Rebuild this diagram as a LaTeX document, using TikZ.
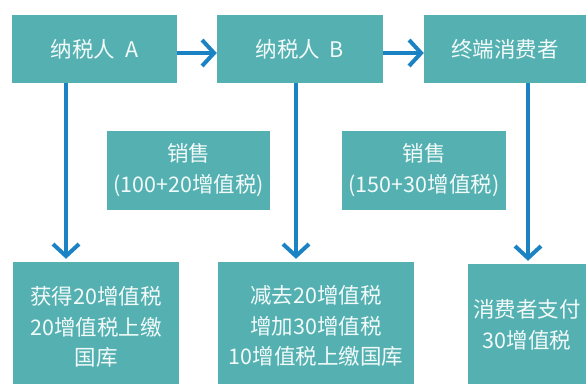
\documentclass[tikz,border=0pt]{standalone}
\usepackage{fontspec}
\setmainfont{Noto Sans CJK SC}
\usetikzlibrary{arrows.meta}
\definecolor{boxteal}{HTML}{55B1B1}
\definecolor{arrowblue}{HTML}{1B82C3}
\definecolor{boxtext}{HTML}{F2FAFA}

\begin{document}
\begin{tikzpicture}[x=1pt, y=-1pt]

		% Setup the style for the boxes and arrows
		\tikzset{box style/.style={rectangle,
				draw=none,
				fill=boxteal,
				text=boxtext,
				inner sep=0pt,
				align=center,
				font=\fontsize{21.5}{30.5}\selectfont},
			flow/.style={line width=4pt,
				draw=arrowblue,
				-{Straight Barb[length=12pt, width=26pt, line width=4pt]}}}

		\useasboundingbox (0, 0) rectangle (586, 383);

		% Draw the boxes
		\node[box style, minimum width=165, minimum height=68] at (94.5, 49) (payerA) {纳税人\ \ A};
		\node[box style, minimum width=166, minimum height=68] at (300, 49)  (payerB) {纳税人\ \ B};
		\node[box style, minimum width=162, minimum height=68] at (505, 49)  (consumer) {终端消费者};
		\node[box style, minimum width=163, minimum height=79] at (188.5, 170) (saleA) {销售\\(100+20增值税)};
		\node[box style, minimum width=164, minimum height=79] at (424, 170)   (saleB) {销售\\(150+30增值税)};
		\node[box style, minimum width=166, minimum height=130] at (96, 327)  (taxA) {获得20增值税\\20增值税上缴\\国库};
		\node[box style, minimum width=196, minimum height=128] at (316, 326) (taxB) {减去20增值税\\增加30增值税\\10增值税上缴国库};
		\node[box style, minimum width=118, minimum height=122] at (527, 325) (taxC) {消费者支付\\30增值税};

		% Connect the boxes with arrows
		\draw[flow] ([yshift=-4]payerA.east) -- ([yshift=-4]payerB.west);
		\draw[flow] ([yshift=-4]payerB.east) -- ([yshift=-4]consumer.west);
		\draw[flow, shorten >=3pt] ([xshift=-28.5]payerA.south) -- ([xshift=-28.5]payerA.south |- taxA.north);
		\draw[flow, shorten >=3pt] ([xshift=-4]payerB.south) -- ([xshift=-4]payerB.south |- taxB.north);
		\draw[flow, shorten >=3pt] ([xshift=23]consumer.south) -- ([xshift=23]consumer.south |- taxC.north);
\end{tikzpicture}
\end{document}
